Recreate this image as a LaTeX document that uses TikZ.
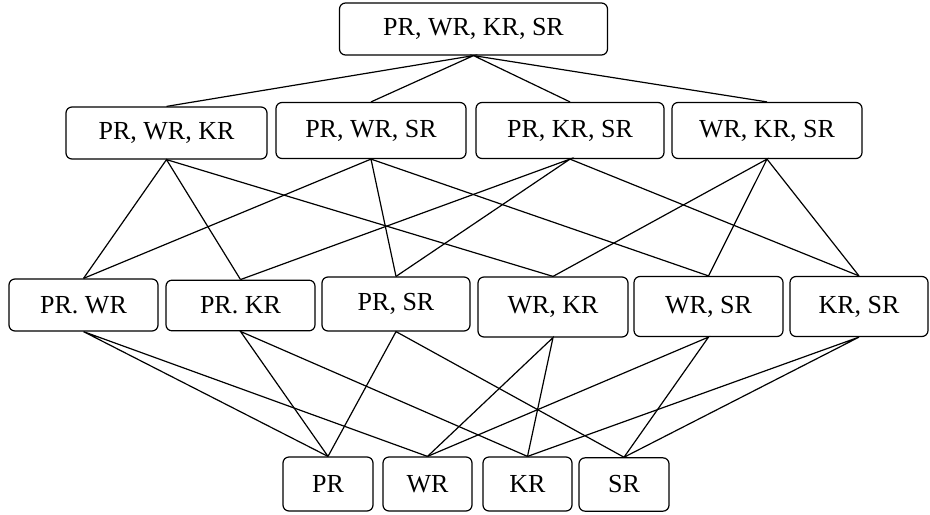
\documentclass[tikz,border=0pt]{standalone}
\usepackage{fontspec}
\setmainfont{Liberation Serif}
\usepackage{tikz}

\begin{document}
\begin{tikzpicture}[
    x=0.75pt, y=-0.75pt,
    set/.style={draw, line width=0.9pt, rounded corners=4.5pt, inner sep=0pt,
                font={\fontsize{19.5}{22}\selectfont}, minimum height=40pt},
    link/.style={line width=0.9pt}]

    \useasboundingbox (0,0) rectangle (930,514);

    % full set
    \node[set, minimum width=201pt, minimum height=39pt] (PWKS) at (473.5,29) {PR, WR, KR, SR};

    % three elements
    \node[set, minimum width=150.75pt, minimum height=39pt] (PWK) at (166.5,133) {PR, WR, KR};
    \node[set, minimum width=142.5pt, minimum height=42pt] (PWS) at (371,130.5) {PR, WR, SR};
    \node[set, minimum width=141pt, minimum height=42pt] (PKS) at (570,130.5) {PR, KR, SR};
    \node[set, minimum width=142.5pt, minimum height=42pt] (WKS) at (767,130.5) {WR, KR, SR};

    % two elements
    \node[set, minimum width=111.75pt, minimum height=39pt] (PW) at (83.5,305) {PR. WR};
    \node[set, minimum width=111.75pt, minimum height=38pt] (PK) at (240.5,305.5) {PR. KR};
    \node[set, minimum width=111pt, minimum height=40.5pt] (PS) at (396,304) {PR, SR};
    \node[set, minimum width=112.5pt, minimum height=45pt] (WK) at (553,307) {WR, KR};
    \node[set, minimum width=111.75pt, minimum height=45pt] (WS) at (708.5,306.5) {WR, SR};
    \node[set, minimum width=103.5pt, minimum height=45pt] (KS) at (859,306.5) {KR, SR};

    % one element
    \node[set, minimum width=67.5pt, minimum height=40.5pt] (P) at (328,484) {PR};
    \node[set, minimum width=66.75pt, minimum height=40.5pt] (W) at (427.5,484) {WR};
    \node[set, minimum width=66.75pt, minimum height=40.5pt] (K) at (527.5,484) {KR};
    \node[set, minimum width=67.5pt, minimum height=40pt] (S) at (624,484.5) {SR};

    \draw[link] (PWK.north) -- (PWKS.south) -- (PWS.north);
    \draw[link] (PKS.north) -- (PWKS.south) -- (WKS.north);

    \draw[link] (PW.north) -- (PWK.south) -- (PK.north);
    \draw[link] (PWK.south) -- (WK.north);
    \draw[link] (PW.north) -- (PWS.south) -- (PS.north);
    \draw[link] (PWS.south) -- (WS.north);
    \draw[link] (PK.north) -- (PKS.south) -- (PS.north);
    \draw[link] (PKS.south) -- (KS.north);
    \draw[link] (WK.north) -- (WKS.south) -- (WS.north);
    \draw[link] (WKS.south) -- (KS.north);

    \draw[link] (P.north) -- (PW.south) -- (W.north);
    \draw[link] (P.north) -- (PK.south) -- (K.north);
    \draw[link] (P.north) -- (PS.south) -- (S.north);
    \draw[link] (W.north) -- (WK.south) -- (K.north);
    \draw[link] (W.north) -- (WS.south) -- (S.north);
    \draw[link] (K.north) -- (KS.south) -- (S.north);

\end{tikzpicture}
\end{document}
